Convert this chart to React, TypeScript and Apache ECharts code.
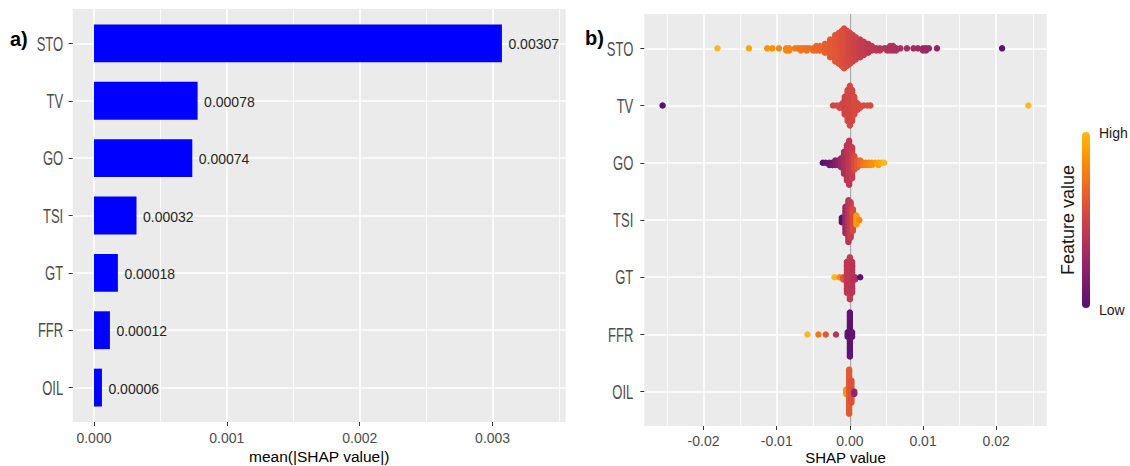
import React, { useEffect, useRef } from "react";
import * as echarts from "echarts";

// ---------- data ----------
const features = ["STO", "TV", "GO", "TSI", "GT", "FFR", "OIL"];
const meanAbsShap = [0.00307, 0.00078, 0.00074, 0.00032, 0.00018, 0.00012, 0.00006];
const barTicks = [0, 0.001, 0.002, 0.003];
const shapTicks = [-0.02, -0.01, 0, 0.01, 0.02];

// beeswarm stacks: [SHAP value, number of points, feature value (0 = low, 1 = high)]
const stoStacks = [
  [-0.0181, 1, 1.0], [-0.0138, 1, 0.92], [-0.0113, 1, 0.85], [-0.0106, 1, 0.84],
  [-0.0097, 1, 0.82], [-0.0087, 2, 0.8], [-0.0083, 2, 0.8], [-0.0075, 1, 0.76],
  [-0.0071, 1, 0.75], [-0.0067, 2, 0.74], [-0.0063, 1, 0.73], [-0.0059, 2, 0.72],
  [-0.0055, 1, 0.71], [-0.005, 2, 0.7], [-0.0046, 3, 0.68], [-0.0041, 3, 0.67],
  [-0.0034, 5, 0.65], [-0.0027, 9, 0.63], [-0.002, 13, 0.61], [-0.0015, 15, 0.6],
  [-0.0011, 17, 0.58], [-0.0008, 19, 0.57], [-0.0004, 17, 0.55], [0.0, 15, 0.53],
  [0.0004, 13, 0.51], [0.0008, 11, 0.49], [0.0014, 9, 0.47], [0.0019, 7, 0.45],
  [0.0025, 5, 0.43], [0.003, 3, 0.42], [0.0036, 2, 0.41], [0.0041, 2, 0.4],
  [0.0047, 1, 0.39], [0.0051, 2, 0.38], [0.0055, 3, 0.37], [0.0059, 3, 0.36],
  [0.0063, 2, 0.35], [0.0069, 1, 0.34], [0.0078, 1, 0.32], [0.0087, 1, 0.31],
  [0.0093, 1, 0.3], [0.01, 2, 0.29], [0.0104, 2, 0.28], [0.0108, 1, 0.27],
  [0.0119, 1, 0.25], [0.0208, 1, 0.02],
];
const tvStacks = [
  [-0.0256, 1, 0.0], [-0.0023, 1, 0.52], [-0.0018, 1, 0.52], [-0.0014, 2, 0.53],
  [-0.001, 3, 0.52], [-0.0007, 9, 0.5], [-0.0003, 15, 0.52], [0.0, 19, 0.53],
  [0.0003, 15, 0.52], [0.0006, 9, 0.54], [0.001, 4, 0.55], [0.0014, 2, 0.55],
  [0.0019, 1, 0.55], [0.0024, 1, 0.55], [0.0028, 1, 0.55], [0.0244, 1, 1.0],
];
const goStacks = [
  [-0.0037, 1, 0.0], [-0.0033, 1, 0.04], [-0.0028, 2, 0.08], [-0.0024, 2, 0.12],
  [-0.002, 3, 0.17], [-0.0016, 3, 0.22], [-0.0012, 5, 0.28], [-0.0008, 11, 0.33],
  [-0.0004, 17, 0.38], [-0.0001, 21, 0.42], [0.0003, 15, 0.46], [0.0006, 7, 0.55],
  [0.001, 4, 0.62], [0.0014, 3, 0.68], [0.0018, 2, 0.73], [0.0022, 2, 0.77],
  [0.0026, 2, 0.8], [0.003, 2, 0.84], [0.0035, 1, 0.87], [0.0039, 2, 0.9],
  [0.0043, 1, 0.95], [0.0047, 1, 1.0],
];
const tsiStacks = [
  [-0.0011, 3, 0.0], [-0.0006, 13, 0.28], [-0.0002, 20, 0.4], [0.0001, 17, 0.46],
  [0.0004, 11, 0.55], [0.0009, 5, 0.88], [0.0013, 1, 0.8],
];
const gtStacks = [
  [-0.0021, 1, 1.0], [-0.0014, 1, 0.82], [-0.0009, 2, 0.6], [-0.0004, 15, 0.42],
  [0.0, 20, 0.44], [0.0003, 15, 0.4], [0.0007, 2, 0.36], [0.0014, 1, 0.02],
];
const ffrStacks = [
  [-0.0058, 1, 1.0], [-0.0043, 1, 0.75], [-0.0033, 1, 0.62], [-0.0019, 1, 0.4],
  [-0.0003, 3, 0.04], [0.0, 21, 0.03], [0.0003, 3, 0.05],
];
const oilStacks = [
  [-0.0005, 3, 0.85], [-0.0001, 21, 0.62], [0.0002, 11, 0.58], [0.0006, 2, 0.25],
];
const swarmStacks = [stoStacks, tvStacks, goStacks, tsiStacks, gtStacks, ffrStacks, oilStacks];

// inferno palette, 0.25 .. 0.85
const inferno = [
  "#57106E", "#6A176E", "#7F1E6C", "#932667", "#A82E5F", "#BC3754", "#CD4347",
  "#DD513A", "#EA632A", "#F37819", "#F98E09", "#FCA50A", "#FBB91F",
];

// ---------- layout ----------
const LEFT_GRID = { left: 72.7, top: 9, width: 493, height: 413 };
const RIGHT_GRID = { left: 644.3, top: 14, width: 402.4, height: 412 };
const Y_MIN = -0.6;
const Y_MAX = 6.6;
const DOT = 6.5;
const STACK_STEP_PX = 2.2;
const SANS = "'Liberation Sans', Arial, sans-serif";

function buildSwarm() {
  const unitPx = RIGHT_GRID.height / (Y_MAX - Y_MIN);
  const step = STACK_STEP_PX / unitPx;
  const pts: number[][] = [];
  swarmStacks.forEach((stacks, i) => {
    stacks.forEach(([x, n, fv]) => {
      for (let j = 0; j < n; j++) {
        const k = j === 0 ? 0 : j % 2 === 1 ? (j + 1) / 2 : -j / 2;
        pts.push([x, i + k * step, fv]);
      }
    });
  });
  return pts;
}

const catIdx = features.map((_, i) => i);

export default function App() {
  const ref = useRef<HTMLDivElement>(null);
  useEffect(() => {
    if (!ref.current) return;
    const chart = echarts.init(ref.current, null, { renderer: "svg" });
    const gridLine = { show: true, lineStyle: { color: "#FFFFFF", width: 1.6 } };
    const minorLine = { show: true, lineStyle: { color: "#FFFFFF", width: 0.8 } };
    const tick = { show: true, length: 4, lineStyle: { color: "#333333", width: 1 } };
    const yAxisBase = (gridIndex: number) => ({
      type: "value",
      gridIndex,
      min: Y_MIN,
      max: Y_MAX,
      inverse: true,
      axisLine: { show: false, onZero: false },
      axisTick: { ...tick, customValues: catIdx },
      axisLabel: { show: false, customValues: catIdx },
      splitLine: gridLine,
    });
    const baseGraphics: any[] = [
      {
        type: "text",
        x: 10,
        y: 39,
        style: { text: "a)", font: "bold 20px " + SANS, fill: "#000", verticalAlign: "middle" },
      },
      {
        type: "text",
        x: 585,
        y: 37.5,
        style: { text: "b)", font: "bold 20px " + SANS, fill: "#000", verticalAlign: "middle" },
      },
      {
        type: "rect",
        shape: { x: 1082, y: 132, width: 8, height: 176, r: 4 },
        style: {
          fill: new echarts.graphic.LinearGradient(
            0, 0, 0, 1,
            inferno
              .slice()
              .reverse()
              .map((c, i, arr) => ({ offset: i / (arr.length - 1), color: c }))
          ),
        },
      },
      {
        type: "text",
        x: 1099,
        y: 133,
        style: { text: "High", fontSize: 14, fontFamily: SANS, fill: "#1A1A1A", verticalAlign: "middle" },
      },
      {
        type: "text",
        x: 1099,
        y: 310,
        style: { text: "Low", fontSize: 14, fontFamily: SANS, fill: "#1A1A1A", verticalAlign: "middle" },
      },
      {
        type: "text",
        x: 1067.5,
        y: 220,
        rotation: Math.PI / 2,
        style: {
          text: "Feature value",
          fontSize: 18,
          fontFamily: SANS,
          fill: "#1A1A1A",
          align: "center",
          verticalAlign: "middle",
        },
      },
    ];
    const option: any = {
      animation: false,
      textStyle: { fontFamily: SANS },
      grid: [
        { ...LEFT_GRID, show: true, backgroundColor: "#EBEBEB", borderWidth: 0, outerBoundsMode: "none", containLabel: false },
        { ...RIGHT_GRID, show: true, backgroundColor: "#EBEBEB", borderWidth: 0, outerBoundsMode: "none", containLabel: false },
      ],
      xAxis: [
        {
          type: "value",
          gridIndex: 0,
          min: -0.00016,
          max: 0.00355,
          splitNumber: 4,
          axisLine: { show: false, onZero: false },
          axisTick: { ...tick, customValues: barTicks },
          axisLabel: {
            customValues: barTicks,
            formatter: (v: number) => v.toFixed(3),
            color: "#4D4D4D",
            fontSize: 14,
            margin: 9,
          },
          splitLine: gridLine,
          minorTick: { show: false, splitNumber: 2 },
          minorSplitLine: minorLine,
          name: "mean(|SHAP value|)",
          nameLocation: "middle",
          nameGap: 26,
          nameMoveOverlap: false,
          nameTextStyle: { fontSize: 15.5, color: "#000000" },
        },
        {
          type: "value",
          gridIndex: 1,
          min: -0.0281,
          max: 0.0269,
          splitNumber: 5,
          axisLine: { show: false, onZero: false },
          axisTick: { ...tick, customValues: shapTicks },
          axisLabel: {
            customValues: shapTicks,
            formatter: (v: number) => v.toFixed(2),
            color: "#4D4D4D",
            fontSize: 14,
            margin: 7.5,
          },
          splitLine: gridLine,
          minorTick: { show: false, splitNumber: 2 },
          minorSplitLine: minorLine,
          name: "SHAP value",
          nameLocation: "middle",
          nameGap: 23.5,
          nameMoveOverlap: false,
          nameTextStyle: { fontSize: 15, color: "#000000" },
        },
      ],
      yAxis: [yAxisBase(0), yAxisBase(1)],
      visualMap: {
        type: "continuous",
        show: false,
        seriesIndex: 2,
        dimension: 2,
        min: 0,
        max: 1,
        inRange: { color: inferno },
      },
      series: [
        {
          type: "custom",
          xAxisIndex: 0,
          yAxisIndex: 0,
          data: meanAbsShap.map((v, i) => [v, i]),
          encode: { x: 0, y: 1 },
          renderItem: (params: any, api: any) => {
            const v = api.value(0);
            const i = api.value(1);
            const p0 = api.coord([0, i]);
            const p1 = api.coord([v, i]);
            const h = api.size([0, 0.66])[1];
            return {
              type: "group",
              children: [
                {
                  type: "rect",
                  shape: { x: p0[0], y: p0[1] - h / 2, width: p1[0] - p0[0], height: h },
                  style: { fill: "#0000FF" },
                },
                {
                  type: "text",
                  x: p1[0] + 6.5,
                  y: p1[1] + 1,
                  style: {
                    text: v.toFixed(5),
                    fill: "#262626",
                    fontSize: 14,
                    fontFamily: SANS,
                    verticalAlign: "middle",
                    align: "left",
                  },
                },
              ],
            };
          },
        },
        {
          type: "scatter",
          xAxisIndex: 1,
          yAxisIndex: 1,
          data: [],
          z: 1,
          markLine: {
            silent: true,
            z: 1,
            symbol: "none",
            label: { show: false },
            lineStyle: { color: "#A9A9A9", width: 1.3, type: "solid" },
            data: [{ xAxis: 0 }],
          },
        },
        {
          type: "scatter",
          xAxisIndex: 1,
          yAxisIndex: 1,
          symbolSize: DOT,
          z: 6,
          itemStyle: { opacity: 1 },
          data: buildSwarm(),
        },
      ],
      graphic: baseGraphics,
    };
    chart.setOption(option);

    // category labels (tall, condensed text as in the reference), placed with the axes' own scale
    const labelGraphics: any[] = [];
    [
      { yAxisIndex: 0, right: LEFT_GRID.left - 9.5 },
      { yAxisIndex: 1, right: RIGHT_GRID.left - 11 },
    ].forEach(({ yAxisIndex, right }) => {
      features.forEach((name, i) => {
        const y = chart.convertToPixel({ yAxisIndex } as any, i) as unknown as number;
        labelGraphics.push({
          type: "text",
          x: right,
          y,
          scaleX: 0.62,
          style: {
            text: name,
            fontSize: 21,
            fontFamily: SANS,
            fill: "#4D4D4D",
            align: "right",
            verticalAlign: "middle",
          },
        });
      });
    });
    chart.setOption({ graphic: [...baseGraphics, ...labelGraphics] });
    return () => chart.dispose();
  }, []);
  return (
    <div
      ref={ref}
      style={{ position: "fixed", left: 0, top: 0, width: 1130, height: 466, background: "#FFFFFF" }}
    />
  );
}
